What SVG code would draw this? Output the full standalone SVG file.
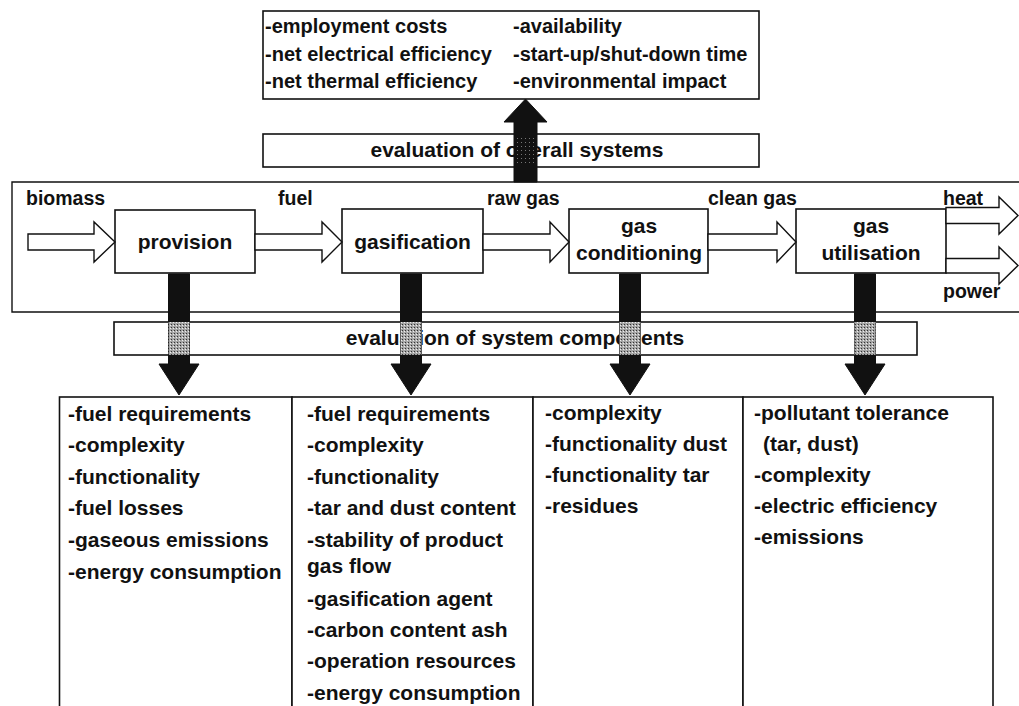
<svg xmlns="http://www.w3.org/2000/svg" width="1019" height="706" viewBox="0 0 1019 706">
<style>
text{font-family:"Liberation Sans",Arial,sans-serif;font-weight:bold;fill:#111}
.box{fill:#fff;stroke:#111;stroke-width:1.6}
.frame{fill:none;stroke:#111;stroke-width:1.4}
.hol{fill:#fff;stroke:#111;stroke-width:1.4;stroke-linejoin:miter}
.blk{fill:#111;stroke:#111;stroke-width:1}
.gry{fill:url(#stip)}
.dgry{fill:url(#dstip)}
.lst{font-size:21px}
.top{font-size:20px}
.lbl{font-size:19.5px}
.proc{font-size:21px;text-anchor:middle}
.ev{font-size:21px;text-anchor:middle}
</style>
<defs>
<pattern id="stip" width="3" height="3" patternUnits="userSpaceOnUse">
<rect width="3" height="3" fill="#a6a6a6"/>
<rect width="1" height="1" fill="#333"/>
<rect x="2" y="1" width="1" height="1" fill="#eee"/>
</pattern>
<pattern id="dstip" width="4" height="4" patternUnits="userSpaceOnUse">
<rect width="4" height="4" fill="#111"/>
<rect x="1" y="2" width="1" height="1" fill="#777"/>
</pattern>
</defs>
<rect width="1019" height="706" fill="#fff"/>

<g id="system-frame">
<path class="frame" d="M1019,182 H12 V312 H1019"/>
</g>

<g id="overall-criteria">
<rect class="box" x="263" y="11" width="496" height="88"/>
<text class="top" x="265" y="33">-employment costs</text>
<text class="top" x="265" y="61">-net electrical efficiency</text>
<text class="top" x="265" y="88">-net thermal efficiency</text>
<text class="top" x="513" y="33">-availability</text>
<text class="top" x="513" y="61">-start-up/shut-down time</text>
<text class="top" x="513" y="88">-environmental impact</text>
</g>

<g id="eval-overall">
<rect class="box" x="263" y="134" width="496" height="33"/>
<text class="ev" x="517" y="157">evaluation of overall systems</text>
</g>

<g id="eval-components">
<rect class="box" x="114" y="322" width="803" height="33"/>
<text class="ev" x="515" y="345">evaluation of system components</text>
</g>

<g id="provision">
<rect class="box" x="115" y="210" width="140" height="63"/>
<text class="proc" x="185" y="249">provision</text>
</g>
<g id="gasification">
<rect class="box" x="342" y="209" width="141" height="64"/>
<text class="proc" x="412.5" y="249">gasification</text>
</g>
<g id="gas-conditioning">
<rect class="box" x="569" y="209" width="139" height="64"/>
<text class="proc" x="639" y="233">gas</text>
<text class="proc" x="639" y="260">conditioning</text>
</g>
<g id="gas-utilisation">
<rect class="box" x="796" y="209" width="150" height="64"/>
<text class="proc" x="871" y="233">gas</text>
<text class="proc" x="871" y="260">utilisation</text>
</g>

<g id="labels">
<text class="lbl" x="26" y="205">biomass</text>
<text class="lbl" x="278" y="205">fuel</text>
<text class="lbl" x="487" y="205">raw gas</text>
<text class="lbl" x="708" y="205">clean gas</text>
<text class="lbl" x="943" y="205">heat</text>
<text class="lbl" x="943" y="298">power</text>
</g>

<g id="provision-criteria">
<rect class="box" x="59.5" y="397" width="232.5" height="330"/>
<text class="lst" x="68" y="421">-fuel requirements</text>
<text class="lst" x="68" y="452">-complexity</text>
<text class="lst" x="68" y="484">-functionality</text>
<text class="lst" x="68" y="515">-fuel losses</text>
<text class="lst" x="68" y="547">-gaseous emissions</text>
<text class="lst" x="68" y="579">-energy consumption</text>
</g>
<g id="gasification-criteria">
<rect class="box" x="292" y="397" width="241" height="330"/>
<text class="lst" x="307" y="421">-fuel requirements</text>
<text class="lst" x="307" y="452">-complexity</text>
<text class="lst" x="307" y="484">-functionality</text>
<text class="lst" x="307" y="515">-tar and dust content</text>
<text class="lst" x="307" y="547">-stability of product</text>
<text class="lst" x="307" y="573">gas flow</text>
<text class="lst" x="307" y="606">-gasification agent</text>
<text class="lst" x="307" y="637">-carbon content ash</text>
<text class="lst" x="307" y="668">-operation resources</text>
<text class="lst" x="307" y="700">-energy consumption</text>
</g>
<g id="conditioning-criteria">
<rect class="box" x="533" y="397" width="210" height="330"/>
<text class="lst" x="545" y="420">-complexity</text>
<text class="lst" x="545" y="451">-functionality dust</text>
<text class="lst" x="545" y="482">-functionality tar</text>
<text class="lst" x="545" y="513">-residues</text>
</g>
<g id="utilisation-criteria">
<rect class="box" x="743" y="397" width="250" height="330"/>
<text class="lst" x="754" y="420">-pollutant tolerance</text>
<text class="lst" x="763" y="451">(tar, dust)</text>
<text class="lst" x="754" y="482">-complexity</text>
<text class="lst" x="754" y="513">-electric efficiency</text>
<text class="lst" x="754" y="544">-emissions</text>
</g>

<g id="connectors">
<polygon class="hol" points="28,234 94,234 94,222 115,242 94,262 94,250 28,250"/>
<polygon class="hol" points="255,234 322,234 322,222 342,242 322,262 322,250 255,250"/>
<polygon class="hol" points="483,234 550,234 550,222 569,242 550,262 550,250 483,250"/>
<polygon class="hol" points="708,234 777,234 777,222 796,242 777,262 777,250 708,250"/>
<polygon class="hol" points="946,207.5 999,207.5 999,197 1018,215.5 999,234 999,223.5 946,223.5"/>
<polygon class="hol" points="946,258.5 999,258.5 999,247 1018,265.5 999,284 999,273 946,273"/>

<polygon class="blk" points="514,182 514,122 504,122 525.5,99 547,122 537,122 537,182"/>
<rect class="dgry" x="514.5" y="135" width="22" height="31"/>

<polygon class="blk" points="168.5,274 189.5,274 189.5,364 199,364 179,395 159,364 168.5,364"/>
<rect class="gry" x="168.5" y="322" width="21" height="33"/>
<polygon class="blk" points="400.5,274 421.5,274 421.5,364 431,364 411,395 391,364 400.5,364"/>
<rect class="gry" x="400.5" y="322" width="21" height="33"/>
<polygon class="blk" points="619.5,274 640.5,274 640.5,364 650,364 630,395 610,364 619.5,364"/>
<rect class="gry" x="619.5" y="322" width="21" height="33"/>
<polygon class="blk" points="854.5,274 875.5,274 875.5,364 885,364 865,395 845,364 854.5,364"/>
<rect class="gry" x="854.5" y="322" width="21" height="33"/>
</g>
</svg>
